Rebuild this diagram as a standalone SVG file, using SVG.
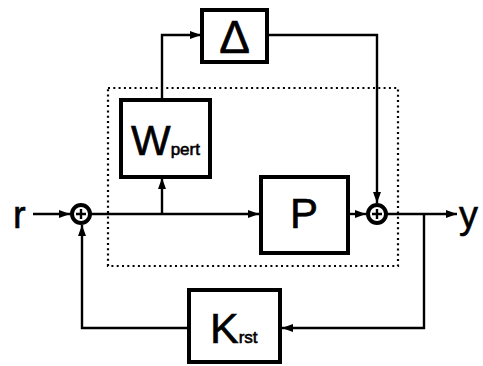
<svg xmlns="http://www.w3.org/2000/svg" width="483" height="366" viewBox="0 0 483 366">
<style>
.box{fill:#fff;stroke:#000;stroke-width:4}
.sum{fill:none;stroke:#000;stroke-width:4}
.ln{fill:none;stroke:#000;stroke-width:2.4}
.t{font-family:"Liberation Sans",Arial,sans-serif;fill:#000;stroke:#000;stroke-width:0.6}
</style>
<defs>
<marker id="ah" viewBox="0 0 11 8" refX="11" refY="4" markerWidth="11" markerHeight="8" markerUnits="userSpaceOnUse" orient="auto">
<path d="M0,0 L11,4 L0,8 z" fill="#000"/>
</marker>
</defs>
<rect x="108" y="88" width="290" height="178" fill="none" stroke="#000" stroke-width="2.2" stroke-dasharray="2,3.3"/>
<g id="connectors">
<path class="ln" d="M33,214 H70" marker-end="url(#ah)"/>
<path class="ln" d="M90,214 H259" marker-end="url(#ah)"/>
<path class="ln" d="M162,214 V178" marker-end="url(#ah)"/>
<path class="ln" d="M162,100 V35 H201" marker-end="url(#ah)"/>
<path class="ln" d="M268,35 H377 V203" marker-end="url(#ah)"/>
<path class="ln" d="M349,214 H366" marker-end="url(#ah)"/>
<path class="ln" d="M387,214 H457" marker-end="url(#ah)"/>
<path class="ln" d="M424,214 V328 H282" marker-end="url(#ah)"/>
<path class="ln" d="M188,328 H82 V225" marker-end="url(#ah)"/>
</g>
<g id="delta"><rect class="box" x="202" y="10" width="65" height="52"/><text class="t" x="234.5" y="53" font-size="46" text-anchor="middle" stroke-width="1.5">Δ</text></g>
<g id="wpert"><rect class="box" x="121" y="100" width="89" height="77"/><text class="t" x="131" y="155" font-size="42">W<tspan font-size="17">pert</tspan></text></g>
<g id="p"><rect class="box" x="261" y="177" width="87" height="76"/><text class="t" x="304" y="228" font-size="42" text-anchor="middle">P</text></g>
<g id="krst"><rect class="box" x="189" y="290" width="91" height="72"/><text class="t" x="210" y="343" font-size="43">K<tspan font-size="17">rst</tspan></text></g>
<g id="sum1"><circle class="sum" cx="81" cy="214" r="9"/><path class="ln" d="M81,209 V219 M76,214 H86" stroke-width="2"/></g>
<g id="sum2"><circle class="sum" cx="377" cy="214" r="9"/><path class="ln" d="M377,209 V219 M372,214 H382" stroke-width="2"/></g>
<text class="t" x="13" y="228" font-size="38">r</text>
<text class="t" x="459" y="228" font-size="38">y</text>
</svg>
